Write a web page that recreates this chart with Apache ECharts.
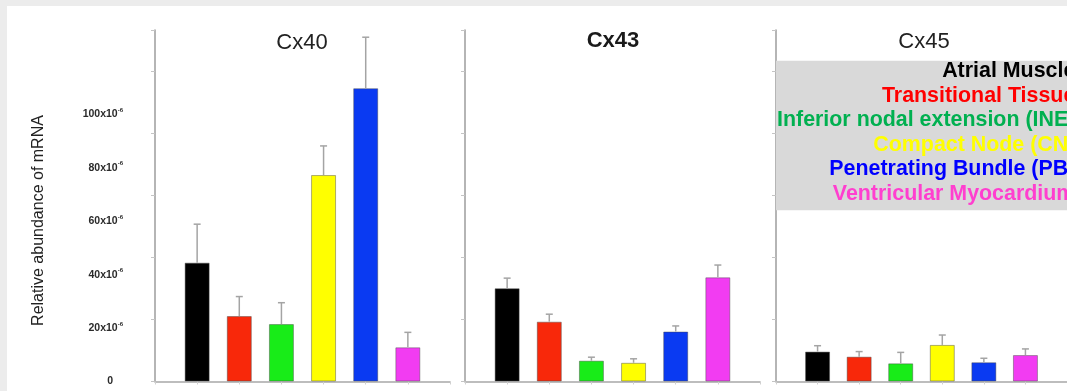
<!DOCTYPE html>
<html>
<head>
<meta charset="utf-8">
<script src="https://cdn.jsdelivr.net/npm/echarts@6/dist/echarts.min.js"></script>
<style>
  html, body { margin: 0; padding: 0; background: #ececec; }
  #wrap { position: relative; width: 1067px; height: 391px; background: #ececec; overflow: hidden; }
  #paper { position: absolute; left: 7px; top: 6px; right: 0; bottom: 0; background: #ffffff; }
  #chart { position: absolute; left: 0; top: 0; width: 1067px; height: 391px; }
</style>
</head>
<body>
<div id="wrap">
  <div id="paper"></div>
  <div id="chart"></div>
</div>
<script>
// Tissue regions (one bar per region in each panel)
const categories = [
  'Atrial Muscle',
  'Transitional Tissue',
  'Inferior nodal extension (INE)',
  'Compact Node (CN)',
  'Penetrating Bundle (PB)',
  'Ventricular Myocardium'
];

// Mean relative mRNA abundance (x10^-6) and the upper error for each region
const cx40Mean = [44.5, 24.5, 21.5, 77.3, 109.8, 12.8];
const cx40Err  = [14.4, 7.3, 8.0, 10.9, 19.1, 5.6];
const cx43Mean = [34.9, 22.4, 7.8, 7.0, 18.7, 39.0];
const cx43Err  = [3.8, 2.8, 1.3, 1.5, 2.1, 4.6];
const cx45Mean = [11.2, 9.3, 6.8, 13.7, 7.2, 9.9];
const cx45Err  = [2.2, 1.9, 4.1, 3.7, 1.5, 2.3];

const panelTitles = ['Cx40', 'Cx43', 'Cx45'];
const tickLabels = [0, 20, 40, 60, 80, 100];
const yAxisTitle = 'Relative abundance of mRNA';

const barColors = ['#000000', '#f8280a', '#18ec18', '#ffff00', '#0a3af2', '#f23cf2'];
const legendColors = ['#000000', '#ff0000', '#00b050', '#ffff00', '#0000ff', '#ff3fcf'];

const FONT = '"Liberation Sans", Arial, sans-serif';
const Y_MAX = 131.6;
const PANEL_TICK = 23.2;

const panels = [
  { mean: cx40Mean, err: cx40Err, left: 155, cx: 302, top: 32, weight: 'normal', color: '#222' },
  { mean: cx43Mean, err: cx43Err, left: 465, cx: 613, top: 30, weight: 'bold', color: '#1a1a1a' },
  { mean: cx45Mean, err: cx45Err, left: 776, cx: 924, top: 30.5, weight: 'normal', color: '#222' }
];

const grids = [], xAxes = [], yAxes = [], series = [], titles = [];

panels.forEach((p, i) => {
  grids.push({ left: p.left, width: 295, top: 30, bottom: 9.5 });

  xAxes.push({
    type: 'value', gridIndex: i, min: 0, max: 7, interval: 1,
    axisLine: { show: true, lineStyle: { color: '#a8a8a8', width: 1.5 } },
    axisTick: { show: true, length: 3, lineStyle: { color: '#d0d0d0' } },
    axisLabel: { show: false },
    splitLine: { show: false }
  });

  yAxes.push({
    type: 'value', gridIndex: i, min: 0, max: Y_MAX, interval: PANEL_TICK,
    axisLine: { show: true, lineStyle: { color: '#9c9c9c', width: 1.5 } },
    axisTick: { show: true, inside: false, length: 4, lineStyle: { color: '#c4c4c4' } },
    axisLabel: { show: false },
    splitLine: { show: false }
  });

  series.push({
    type: 'bar', xAxisIndex: i, yAxisIndex: i,
    barWidth: 25,
    data: p.mean.map((v, k) => ({
      value: [k + 1, v],
      itemStyle: { color: barColors[k] }
    })),
    itemStyle: { borderColor: 'rgba(70,70,70,0.45)', borderWidth: 1 },
    emphasis: { disabled: true },
    z: 2
  });

  series.push({
    type: 'custom', xAxisIndex: i, yAxisIndex: i,
    data: p.mean.map((v, k) => [k + 1, v, p.err[k]]),
    encode: { x: 0, y: 1 },
    z: 3,
    renderItem: function (params, api) {
      const x = api.value(0), m = api.value(1), e = api.value(2);
      const a = api.coord([x, m]);
      const b = api.coord([x, m + e]);
      const cap = 3.5;
      const st = { stroke: '#a4a4a4', lineWidth: 1.5 };
      return {
        type: 'group',
        children: [
          { type: 'line', shape: { x1: a[0], y1: a[1], x2: b[0], y2: b[1] }, style: st },
          { type: 'line', shape: { x1: b[0] - cap, y1: b[1], x2: b[0] + cap, y2: b[1] }, style: st }
        ]
      };
    }
  });

  titles.push({
    text: panelTitles[i],
    left: p.cx, top: p.top, padding: 0,
    textAlign: 'center',
    textStyle: { fontFamily: FONT, fontSize: 22, fontWeight: p.weight, color: p.color }
  });
});

// Labelled value axis on the left of the first panel
yAxes.push({
  type: 'value', gridIndex: 0, min: 0, max: Y_MAX, interval: 20, position: 'left',
  axisLine: { show: false },
  axisTick: { show: false },
  splitLine: { show: false },
  axisLabel: {
    margin: 32,
    formatter: function (v) {
      if (tickLabels.indexOf(v) < 0) return '';
      return v === 0 ? '{z|0}' : '{n|' + v + 'x10}{s|-6}';
    },
    rich: {
      n: { fontFamily: FONT, fontSize: 10.5, fontWeight: 'bold', color: '#2a2a2a', lineHeight: 14 },
      s: { fontFamily: FONT, fontSize: 6, fontWeight: 'bold', color: '#2a2a2a', verticalAlign: 'top', lineHeight: 14 },
      z: { fontFamily: FONT, fontSize: 10.5, fontWeight: 'bold', color: '#2a2a2a', lineHeight: 14, padding: [0, 10, 0, 0] }
    }
  }
});

// Region key, right aligned on a grey panel
const legendRich = {};
categories.forEach((c, k) => {
  legendRich['c' + k] = {
    fontFamily: FONT, fontSize: 21.4, fontWeight: 'bold',
    color: legendColors[k], lineHeight: 24.5, align: 'right'
  };
});
titles.push({
  text: categories.map((c, k) => '{c' + k + '|' + c + '}').join('\n'),
  left: 776, top: 59,
  padding: [0, 4, 6, 1],
  backgroundColor: '#d9d9d9',
  textStyle: { rich: legendRich }
});

const chart = echarts.init(document.getElementById('chart'), null, { renderer: 'canvas' });
chart.setOption({
  backgroundColor: 'transparent',
  animation: false,
  title: titles,
  grid: grids,
  xAxis: xAxes,
  yAxis: yAxes,
  series: series,
  graphic: [{
    type: 'text',
    x: 39, y: 220.5,
    rotation: Math.PI / 2,
    style: {
      text: yAxisTitle,
      fontFamily: FONT, fontSize: 16, fill: '#222',
      textAlign: 'center', textVerticalAlign: 'middle'
    }
  }]
});
</script>
</body>
</html>
